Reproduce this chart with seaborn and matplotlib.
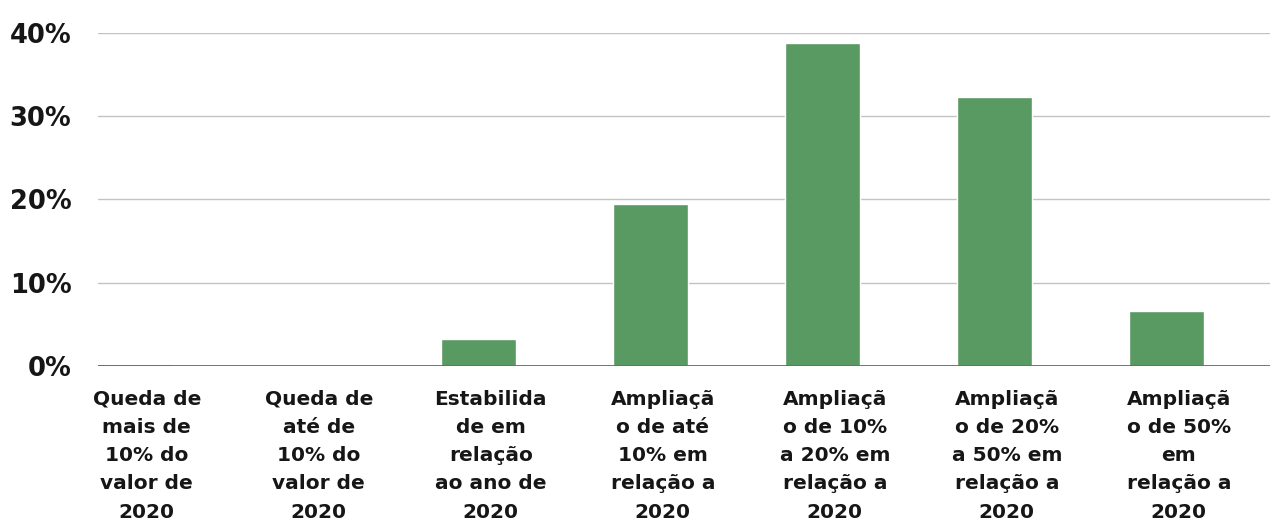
import matplotlib
matplotlib.use("Agg")
import matplotlib.pyplot as plt
import matplotlib.transforms as mtransforms
from matplotlib.ticker import FuncFormatter
import pandas as pd
import seaborn as sns

# [Data]====================================================================================================
categories = [
    "Queda de\nmais de\n10% do\nvalor de\n2020",
    "Queda de\naté de\n10% do\nvalor de\n2020",
    "Estabilida\nde em\nrelação\nao ano de\n2020",
    "Ampliaçã\no de até\n10% em\nrelação a\n2020",
    "Ampliaçã\no de 10%\na 20% em\nrelação a\n2020",
    "Ampliaçã\no de 20%\na 50% em\nrelação a\n2020",
    "Ampliaçã\no de 50%\nem\nrelação a\n2020",
]
percent = [0.2, 0.0, 3.2, 19.5, 38.8, 32.3, 6.6]
y_ticks = [0, 10, 20, 30, 40]

bar_color = "#599a63"
grid_color = "#c3c3c3"
text_color = "#161616"

# [Plot]====================================================================================================
sns.set_style("white")
plt.rcParams['font.family'] = ['DejaVu Sans']

df = pd.DataFrame({"cat": categories, "pct": percent})

fig = plt.figure(figsize=(12.7, 5.28), dpi=100)
ax = fig.add_axes([0.077, 0.307, 0.923, 0.6305])

sns.barplot(data=df, x="cat", y="pct", color=bar_color, width=0.436,
            saturation=1, ax=ax, zorder=3)

ax.set_ylim(0, 40)
ax.set_xlim(-0.215, 6.6)
ax.set_yticks(y_ticks)
ax.yaxis.set_major_formatter(FuncFormatter(lambda v, p: f"{v:.0f}%"))
ax.grid(axis="y", color=grid_color, linewidth=1, zorder=0)
ax.axhline(0, color="#6a6a6a", linewidth=1.3, zorder=4)

for s in ax.spines.values():
    s.set_visible(False)

ax.tick_params(axis="y", length=0, pad=19, labelsize=18.5, labelcolor=text_color)
ax.tick_params(axis="x", length=0, pad=17, labelsize=14.5, labelcolor=text_color)
for lab in ax.get_yticklabels():
    lab.set_fontweight("bold")

offset = mtransforms.ScaledTranslation(0.12, 0, fig.dpi_scale_trans)
for lab in ax.get_xticklabels():
    lab.set_fontweight("bold")
    lab.set_linespacing(1.62)
    lab.set_transform(lab.get_transform() + offset)

ax.set_xlabel('')
ax.set_ylabel('')

fig.savefig("out.png", dpi=100)
